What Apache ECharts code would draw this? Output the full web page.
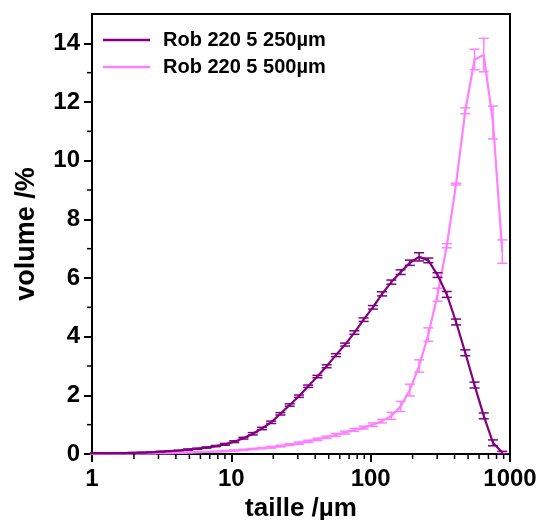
<!DOCTYPE html>
<html><head><meta charset="utf-8">
<script src="https://cdn.jsdelivr.net/npm/echarts@6/dist/echarts.min.js"></script>
<style>html,body{margin:0;padding:0;background:#fff}#c{width:541px;height:520px}</style>
</head><body><div id="c"></div>
<script>
// particle size (µm)
const sizes = [0.91,1.06,1.24,1.44,1.68,1.96,2.28,2.65,3.09,3.60,4.19,4.89,5.69,6.63,7.73,9.00,10.49,12.22,14.24,16.59,19.32,22.51,26.23,30.56,35.60,41.47,48.32,56.29,65.58,76.40,89.01,103.70,120.82,140.76,163.99,191.05,222.6,259.3,302.1,351.9,410.0,477.7,556.5,648.3,755.3,880.0];
// volume % — Rob 220 5 250µm
const vol250 = [0.03,0.03,0.03,0.03,0.03,0.04,0.05,0.06,0.08,0.10,0.12,0.15,0.18,0.22,0.27,0.33,0.42,0.54,0.69,0.87,1.08,1.37,1.67,1.97,2.31,2.64,2.99,3.37,3.73,4.14,4.58,5.00,5.46,5.86,6.20,6.52,6.72,6.60,6.10,5.44,4.50,3.45,2.35,1.30,0.38,0.05];
const err250 = [0.01,0.01,0.01,0.01,0.01,0.01,0.01,0.01,0.01,0.01,0.01,0.02,0.02,0.02,0.02,0.03,0.03,0.03,0.04,0.04,0.04,0.04,0.04,0.04,0.04,0.04,0.05,0.05,0.05,0.06,0.06,0.06,0.07,0.07,0.08,0.09,0.14,0.08,0.08,0.10,0.10,0.10,0.10,0.10,0.10,0.04];
// volume % — Rob 220 5 500µm
const vol500 = [0.01,0.01,0.01,0.01,0.01,0.02,0.02,0.02,0.03,0.03,0.04,0.05,0.06,0.07,0.08,0.10,0.12,0.14,0.17,0.20,0.23,0.27,0.32,0.37,0.43,0.50,0.57,0.65,0.73,0.82,0.90,1.00,1.12,1.30,1.62,2.18,3.00,4.07,5.43,7.10,9.20,11.70,13.45,13.60,11.30,6.90];
const err500 = [0.01,0.01,0.01,0.01,0.01,0.01,0.01,0.01,0.01,0.01,0.01,0.01,0.01,0.01,0.01,0.02,0.02,0.02,0.02,0.02,0.03,0.03,0.03,0.04,0.04,0.04,0.04,0.05,0.05,0.05,0.05,0.06,0.06,0.12,0.17,0.20,0.21,0.23,0.22,0.07,0.03,0.10,0.35,0.57,0.56,0.40];
const seriesNames = ['Rob 220 5 250µm', 'Rob 220 5 500µm'];
const xMinorTicks = [2,3,4,5,6,7,8,9,20,30,40,50,60,70,80,90,200,300,400,500,600,700,800,900];
const yMajorTicks = [0,2,4,6,8,10,12,14];
const yMinorTicks = [1,3,5,7,9,11,13];

const colors = ['#800080', '#FF80FF'];
const FONT = '"Liberation Sans", Arial, sans-serif';

function pairs(xs, ys){ return xs.map((x,i)=>[x, ys[i]]); }
function errData(xs, ys, es){ return xs.map((x,i)=>[x, ys[i], es[i]]).filter(d=>d[0]>=1); }
function errRender(color){
  return function(params, api){
    const x = api.value(0), y = api.value(1), e = api.value(2);
    const top = api.coord([x, y + e]);
    const bot = api.coord([x, y - e]);
    const hw = 5;
    const style = {stroke: color, lineWidth: 1.5, fill: null};
    return {type:'group', children:[
      {type:'line', shape:{x1:top[0], y1:top[1], x2:bot[0], y2:bot[1]}, style: style},
      {type:'line', shape:{x1:top[0]-hw, y1:top[1], x2:top[0]+hw, y2:top[1]}, style: style},
      {type:'line', shape:{x1:bot[0]-hw, y1:bot[1], x2:bot[0]+hw, y2:bot[1]}, style: style}
    ]};
  };
}

const chart = echarts.init(document.getElementById('c'), null, {renderer:'canvas'});
chart.setOption({
  animation: false,
  backgroundColor: '#fff',
  grid: {left: 92, right: 31, top: 14, bottom: 66, show: true, borderColor: '#000', borderWidth: 2,
         containLabel: false, outerBoundsMode: 'none'},
  legend: {
    orient: 'vertical', left: 103, top: 29, itemGap: 5, padding: 0,
    itemWidth: 47, itemHeight: 2.5, icon: 'rect',
    data: seriesNames,
    textStyle: {fontFamily: FONT, fontWeight: 'bold', fontSize: 20, color: '#000', lineHeight: 22, padding: [0,0,0,8]}
  },
  xAxis: {
    type: 'log', logBase: 10, min: 1, max: 1000,
    name: 'taille /µm', nameLocation: 'middle', nameGap: 36,
    nameTextStyle: {fontFamily: FONT, fontWeight: 'bold', fontSize: 26, color: '#000', verticalAlign: 'top'},
    axisLine: {show: true, onZero: false, lineStyle: {color: '#000', width: 2}},
    axisTick: {show: true, inside: false, length: 8, lineStyle: {color: '#000', width: 2}},
    axisLabel: {fontFamily: FONT, fontWeight: 'bold', fontSize: 24, color: '#000', margin: 13,
                formatter: function(v){ return String(Math.round(v)); }},
    splitLine: {show: false}, minorTick: {show: false}
  },
  yAxis: {
    type: 'value', min: 0, max: 15,
    name: 'volume /%', nameLocation: 'middle', nameGap: 52, nameRotate: 90,
    nameTextStyle: {fontFamily: FONT, fontWeight: 'bold', fontSize: 27, color: '#000'},
    axisLine: {show: true, lineStyle: {color: '#000', width: 2}},
    axisTick: {show: true, inside: false, length: 8, customValues: yMajorTicks, lineStyle: {color: '#000', width: 2}},
    axisLabel: {fontFamily: FONT, fontWeight: 'bold', fontSize: 24, color: '#000', margin: 12, customValues: yMajorTicks},
    splitLine: {show: false}
  },
  series: [
    {name: seriesNames[0], type: 'line', data: pairs(sizes, vol250), showSymbol: false, symbol: 'none', clip: true,
     lineStyle: {color: colors[0], width: 2.2}, itemStyle: {color: colors[0]}, z: 3},
    {name: seriesNames[1], type: 'line', data: pairs(sizes, vol500), showSymbol: false, symbol: 'none', clip: true,
     lineStyle: {color: colors[1], width: 2.2}, itemStyle: {color: colors[1]}, z: 2},
    {type: 'custom', data: errData(sizes, vol500, err500), renderItem: errRender(colors[1]), silent: true, z: 2},
    {type: 'custom', data: errData(sizes, vol250, err250), renderItem: errRender(colors[0]), silent: true, z: 3},
    {type: 'custom', data: xMinorTicks.map(v=>[v,0]), silent: true, z: 5,
     renderItem: function(params, api){
       const p = api.coord([api.value(0), 0]);
       return {type:'line', shape:{x1:p[0], y1:p[1], x2:p[0], y2:p[1]+5}, style:{stroke:'#000', lineWidth:1.5}};
     }},
    {type: 'custom', data: yMinorTicks.map(v=>[1,v]), silent: true, z: 5,
     renderItem: function(params, api){
       const p = api.coord([1, api.value(1)]);
       return {type:'line', shape:{x1:p[0]-5, y1:p[1], x2:p[0], y2:p[1]}, style:{stroke:'#000', lineWidth:1.5}};
     }}
  ]
});
</script>
</body></html>
